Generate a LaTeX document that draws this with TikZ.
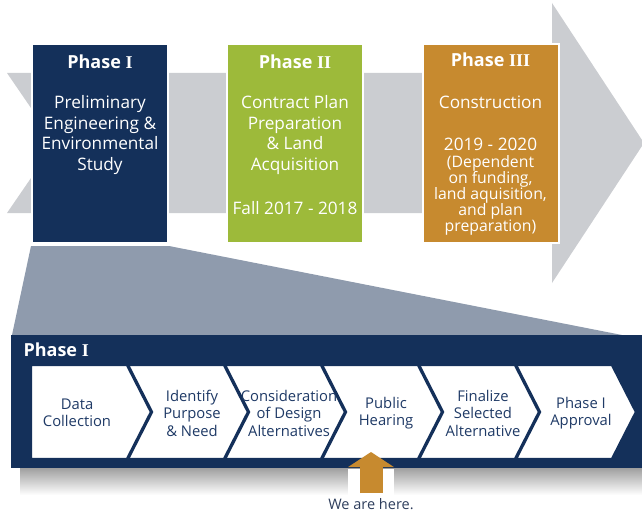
\documentclass[tikz,border=0pt]{standalone}
\usepackage{fontspec}
\setmainfont{Open Sans}
\newfontfamily\numfont{Liberation Serif}
\usetikzlibrary{positioning,arrows.meta}

\definecolor{navy}{HTML}{14305A}
\definecolor{lime}{HTML}{9DBA3A}
\definecolor{ochre}{HTML}{C78A2F}
\definecolor{arrowgray}{HTML}{CBCDD1}
\definecolor{zoomgray}{HTML}{8F9BAD}
\definecolor{chevtext}{HTML}{1F3A66}
\definecolor{heretext}{HTML}{2E3E5C}

\tikzset{
  phasebox/.style={draw=white, line width=2pt, minimum width=136pt, minimum height=199pt, inner sep=0pt},
  phasehead/.style={text=white, font=\fontsize{18}{20}\selectfont\bfseries},
  phasetext/.style={text=white, align=center, inner sep=0pt, font=\fontsize{17.2}{20.8}\selectfont},
  smalltext/.style={text=white, align=center, inner sep=0pt, font=\fontsize{15.8}{16}\selectfont},
  chevron/.style={fill=white, draw=navy, line width=2.4pt, line join=miter},
  chevlabel/.style={text=chevtext, align=center, inner sep=0pt, font=\fontsize{14.8}{17.5}\selectfont},
}

\begin{document}
\begin{tikzpicture}[x=1pt,y=-1pt]
\useasboundingbox (0,0) rectangle (642,516);

%big grey arrow
\fill[arrowgray] (7,73)--(552,73)--(552,3)--(644,143)--(552,283)--(552,213)--(7,213)--(55,143)--cycle;

%phase boxes
\node[phasebox, fill=navy] (p1) at (100,143.5) {};
\node[phasebox, fill=lime] (p2) at (295,143.5) {};
\node[phasebox, fill=ochre] (p3) at (490.5,143.5) {};

\node[phasehead] (p1h) at (100,62) {Phase {\numfont I}};
\node[phasehead] (p2h) at (295,62) {Phase {\numfont II}};
\node[phasehead] (p3h) at (490.5,60) {Phase {\numfont III}};

\node[phasetext] (p1t) at (100,135) {Preliminary\\Engineering \&\\Environmental\\Study};
\node[phasetext] (p2t) at (295,135) {Contract Plan\\Preparation\\\& Land\\Acquisition};
\node[phasetext] (p2d) at (295,208) {Fall 2017 - 2018};
\node[phasetext] (p3t) at (490.5,102) {Construction};
\node[phasetext] (p3d) at (490.5,144) {2019 - 2020};
\node[smalltext] (p3n) at (490.5,195.5) {(Dependent\\on funding,\\land aquisition,\\and plan\\preparation)};

%zoom out of phase I
\fill[zoomgray] ([yshift=-2pt]p1.south west)--([yshift=-2pt]p1.south east)--(622,335)--(12,335)--cycle;

%phase I panel
\fill[top color=gray!75, bottom color=white] (20,468) rectangle (642,495);
\fill[navy] (11,335) rectangle (642,468);
\node[phasehead, anchor=base west] (panelh) at (20,356) {Phase {\numfont I}};

\draw[chevron] (31,365)--(127,365)--(151,412)--(127,459)--(31,459)--cycle;
\draw[chevron] (128,365)--(224,365)--(248,412)--(224,459)--(128,459)--(152,412)--cycle;
\draw[chevron] (225,365)--(321,365)--(345,412)--(321,459)--(225,459)--(249,412)--cycle;
\draw[chevron] (322,365)--(418,365)--(442,412)--(418,459)--(322,459)--(346,412)--cycle;
\draw[chevron] (419,365)--(515,365)--(539,412)--(515,459)--(419,459)--(443,412)--cycle;
\draw[chevron] (516,365)--(612,365)--(636,412)--(612,459)--(516,459)--(540,412)--cycle;

\node[chevlabel] (c1) at (77,413) {Data\\Collection};
\node[chevlabel] (c2) at (192,413) {Identify\\Purpose\\\& Need};
\node[chevlabel] (c3) at (289,413) {Consideration\\of Design\\Alternatives};
\node[chevlabel] (c4) at (386,413) {Public\\Hearing};
\node[chevlabel] (c5) at (483,413) {Finalize\\Selected\\Alternative};
\node[chevlabel] (c6) at (581,413) {Phase I\\Approval};

%we are here
\fill[white] (348,469) rectangle (394,496);
\node[text=heretext, font=\fontsize{14.5}{16}\selectfont, inner sep=0pt] (here) at (371,504) {We are here.};
\coordinate (herefoot) at (371,493);
\coordinate (heretip) at (371,452);
\draw[ochre, line width=23pt, -{Triangle[width=45pt,length=15pt]}] (herefoot)--(heretip);

\end{tikzpicture}
\end{document}
